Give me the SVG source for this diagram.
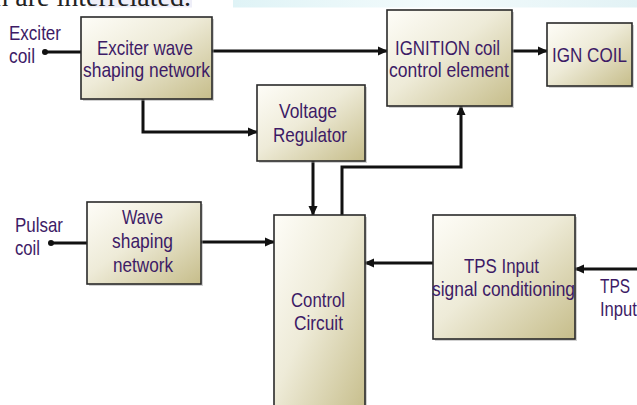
<svg xmlns="http://www.w3.org/2000/svg" width="637" height="405" viewBox="0 0 637 405">
<defs>
<linearGradient id="g" x1="0" y1="0" x2="1" y2="1">
<stop offset="0" stop-color="#fefdf8"/>
<stop offset="0.45" stop-color="#eeebd8"/>
<stop offset="1" stop-color="#c6bd8a"/>
</linearGradient>
<linearGradient id="cy" x1="0" y1="0" x2="1" y2="0">
<stop offset="0" stop-color="#dff3f6"/>
<stop offset="0.5" stop-color="#f3fbfc"/>
<stop offset="1" stop-color="#e2f2f5"/>
</linearGradient>
<marker id="ah" markerUnits="userSpaceOnUse" markerWidth="10" markerHeight="10" refX="9" refY="5" orient="auto">
<path d="M0,0.5 L10,5 L0,9.5 z" fill="#111"/>
</marker>
<style>
.box{fill:url(#g);stroke:#2a2a2a;stroke-width:1.6}
.sh{fill:#999;opacity:0.45}
.t{font-family:"Liberation Sans",Arial,sans-serif;font-size:21px;fill:#3d1b66;text-anchor:middle}
.l{font-family:"Liberation Sans",Arial,sans-serif;font-size:21px;fill:#3d1b66}
.c{fill:none;stroke:#111;stroke-width:3}
.a{marker-end:url(#ah)}
</style>
</defs>
<rect x="0" y="0" width="637" height="405" fill="#ffffff"/>
<g id="header">
<rect x="88" y="0" width="104" height="7.5" fill="#eeeef8"/>
<rect x="233" y="0" width="404" height="7.5" fill="url(#cy)"/>
<text x="191" y="6" font-family="'Liberation Serif',serif" font-size="28" fill="#222" text-anchor="end">h are interrelated.</text>
</g>
<g id="connectors">
<path class="c" d="M45,52 H81"/>
<circle cx="45" cy="52" r="3" fill="#111"/>
<path class="c a" d="M212,51 H387"/>
<path class="c a" d="M512,51 H547"/>
<path class="c a" d="M143,99 V132 H257"/>
<path class="c a" d="M313,161 V215"/>
<path class="c a" d="M342,215 V167 H461 V106"/>
<path class="c" d="M51,243 H87"/>
<circle cx="51" cy="243" r="3" fill="#111"/>
<path class="c a" d="M201,242 H274"/>
<path class="c a" d="M433,263 H365"/>
<path class="c a" d="M637,269 H575"/>
</g>
<g id="exciter-coil">
<text class="l" x="9" y="40" textLength="52" lengthAdjust="spacingAndGlyphs">Exciter</text>
<text class="l" x="9" y="63" textLength="26" lengthAdjust="spacingAndGlyphs">coil</text>
</g>
<g id="pulsar-coil">
<text class="l" x="15" y="232" textLength="48" lengthAdjust="spacingAndGlyphs">Pulsar</text>
<text class="l" x="15" y="255" textLength="25" lengthAdjust="spacingAndGlyphs">coil</text>
</g>
<g id="tps-input">
<text class="l" x="600" y="293" textLength="30" lengthAdjust="spacingAndGlyphs">TPS</text>
<text class="l" x="600" y="316" textLength="37" lengthAdjust="spacingAndGlyphs">Input</text>
</g>
<g id="exciter-wave">
<rect class="sh" x="83" y="19" width="131" height="82"/>
<rect class="box" x="81" y="17" width="131" height="82"/>
<text class="t" x="145" y="55" textLength="96" lengthAdjust="spacingAndGlyphs">Exciter wave</text>
<text class="t" x="146.5" y="77" textLength="127" lengthAdjust="spacingAndGlyphs">shaping network</text>
</g>
<g id="ignition-control">
<rect class="sh" x="389" y="12" width="125" height="96"/>
<rect class="box" x="387" y="10" width="125" height="96"/>
<text class="t" x="447.5" y="55" textLength="105" lengthAdjust="spacingAndGlyphs">IGNITION  coil</text>
<text class="t" x="449" y="77" textLength="120" lengthAdjust="spacingAndGlyphs">control element</text>
</g>
<g id="ign-coil">
<rect class="sh" x="549" y="25" width="85" height="63"/>
<rect class="box" x="547" y="23" width="85" height="63"/>
<text class="t" x="589.5" y="62" textLength="75" lengthAdjust="spacingAndGlyphs">IGN COIL</text>
</g>
<g id="voltage-regulator">
<rect class="sh" x="259" y="87" width="108" height="76"/>
<rect class="box" x="257" y="85" width="108" height="76"/>
<text class="t" x="308" y="118" textLength="58" lengthAdjust="spacingAndGlyphs">Voltage</text>
<text class="t" x="310" y="142" textLength="74" lengthAdjust="spacingAndGlyphs">Regulator</text>
</g>
<g id="wave-shaping">
<rect class="sh" x="89" y="204" width="114" height="82"/>
<rect class="box" x="87" y="202" width="114" height="82"/>
<text class="t" x="142.5" y="224" textLength="41" lengthAdjust="spacingAndGlyphs">Wave</text>
<text class="t" x="142.5" y="248" textLength="61" lengthAdjust="spacingAndGlyphs">shaping</text>
<text class="t" x="143" y="272" textLength="60" lengthAdjust="spacingAndGlyphs">network</text>
</g>
<g id="control-circuit">
<rect class="sh" x="276" y="217" width="91" height="200"/>
<rect class="box" x="274" y="215" width="91" height="200"/>
<text class="t" x="318" y="307" textLength="54" lengthAdjust="spacingAndGlyphs">Control</text>
<text class="t" x="318.5" y="330" textLength="49" lengthAdjust="spacingAndGlyphs">Circuit</text>
</g>
<g id="tps-conditioning">
<rect class="sh" x="435" y="217" width="142" height="124"/>
<rect class="box" x="433" y="215" width="142" height="124"/>
<text class="t" x="501.5" y="273" textLength="75" lengthAdjust="spacingAndGlyphs">TPS Input</text>
<text class="t" x="503.5" y="296" textLength="143" lengthAdjust="spacingAndGlyphs">signal conditioning</text>
</g>
</svg>
